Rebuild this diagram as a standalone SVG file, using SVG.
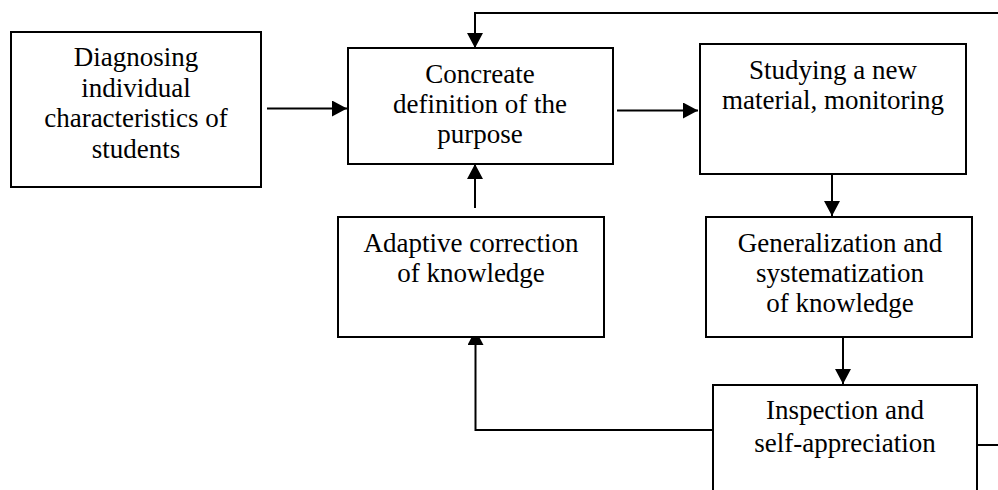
<svg xmlns="http://www.w3.org/2000/svg" width="998" height="490" viewBox="0 0 998 490">
<style>
.box{fill:#fff;stroke:#000;stroke-width:2}
.t{font-family:"Liberation Serif","Times New Roman",serif;font-size:27px;fill:#000;text-anchor:middle}
.c{fill:none;stroke:#000;stroke-width:2}
</style>
<defs>
<marker id="ah" markerWidth="15" markerHeight="16" refX="15" refY="8" orient="auto" markerUnits="userSpaceOnUse">
<path d="M0,0 L15,8 L0,16 Z" fill="#000"/>
</marker>
</defs>
<rect width="998" height="490" fill="#fff"/>
<g id="connectors">
<path class="c" d="M998,13 H475 V48" marker-end="url(#ah)"/>
<path class="c" d="M267,108.5 H347" marker-end="url(#ah)"/>
<path class="c" d="M617,110.5 H698" marker-end="url(#ah)"/>
<path class="c" d="M832,173 V216" marker-end="url(#ah)"/>
<path class="c" d="M843,337 V384" marker-end="url(#ah)"/>
<path class="c" d="M475,208 V164" marker-end="url(#ah)"/>
<path class="c" d="M713,430 H475.5 V330" marker-end="url(#ah)"/>
<path class="c" d="M977,445 H998"/>
</g>
<g id="diagnosing">
<rect class="box" x="11" y="32" width="250" height="155"/>
<text class="t" x="136" y="66">Diagnosing</text>
<text class="t" x="136" y="97">individual</text>
<text class="t" x="136" y="127">characteristics of</text>
<text class="t" x="136" y="158">students</text>
</g>
<g id="concreate">
<rect class="box" x="348" y="48" width="265" height="116"/>
<text class="t" x="480" y="83">Concreate</text>
<text class="t" x="480" y="113">definition of the</text>
<text class="t" x="480" y="143">purpose</text>
</g>
<g id="studying">
<rect class="box" x="700" y="44" width="266" height="130"/>
<text class="t" x="833" y="79">Studying a new</text>
<text class="t" x="833" y="109">material, monitoring</text>
</g>
<g id="generalization">
<rect class="box" x="706" y="217" width="266" height="120"/>
<text class="t" x="840" y="252">Generalization and</text>
<text class="t" x="840" y="282">systematization</text>
<text class="t" x="840" y="312">of knowledge</text>
</g>
<g id="adaptive">
<rect class="box" x="338" y="217" width="266" height="120"/>
<text class="t" x="471" y="252">Adaptive correction</text>
<text class="t" x="471" y="282">of knowledge</text>
</g>
<g id="inspection">
<rect class="box" x="713" y="385" width="264" height="115"/>
<text class="t" x="845" y="419">Inspection and</text>
<text class="t" x="845" y="452">self-appreciation</text>
</g>
</svg>
